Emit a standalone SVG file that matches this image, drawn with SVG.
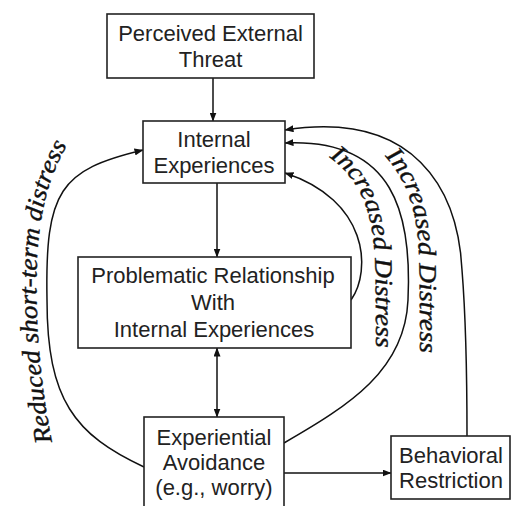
<svg xmlns="http://www.w3.org/2000/svg" width="511" height="506" viewBox="0 0 511 506">
<defs>
<marker id="ah" viewBox="0 0 9 7" refX="8.5" refY="3.5" markerWidth="9" markerHeight="7" markerUnits="userSpaceOnUse" orient="auto-start-reverse">
<path d="M0,0 L9,3.5 L0,7 z" fill="#111"/>
</marker>
<path id="tpL" d="M52,442 C40,382 35,322 37,262 C39,212 50,170 72,138"/>
<path id="tpI" d="M329,157 C361,180 373,213 375,262 C376,300 376,330 376,370"/>
<path id="tpO" d="M385,156 C407,180 418,213 419,258 C420,300 420,330 420,370"/>
</defs>
<style>
.box{fill:#fff;stroke:#222;stroke-width:1.6}
.lbl{font-family:"Liberation Sans",Arial,sans-serif;font-size:22px;fill:#222;text-anchor:middle}
.con{fill:none;stroke:#111;stroke-width:1.5}
.cur{font-family:"Liberation Serif","Times New Roman",serif;font-style:italic;font-size:25px;fill:#111;stroke:#111;stroke-width:0.4}
</style>
<rect width="511" height="506" fill="#fff"/>
<g id="connectors">
<path class="con" d="M213,78 L213,121" marker-end="url(#ah)"/>
<path class="con" d="M217,183 L217,257" marker-end="url(#ah)"/>
<path class="con" d="M217,348 L217,417" marker-start="url(#ah)" marker-end="url(#ah)"/>
<path class="con" d="M284,473 L391,473" marker-end="url(#ah)"/>
<path class="con" d="M144,467 C75,435 47,400 47,300 C45,190 60,170 143,150" marker-end="url(#ah)"/>
<path class="con" d="M351,300 C372,270 368,200 285,173" marker-end="url(#ah)"/>
<path class="con" d="M284,443 C350,405 405,370 408,300 C412,215 395,138 285,143" marker-end="url(#ah)"/>
<path class="con" d="M467,436 C467,380 466,320 462,270 C458,190 415,110 285,130" marker-end="url(#ah)"/>
<text class="cur"><textPath href="#tpL" textLength="303" lengthAdjust="spacingAndGlyphs">Reduced short-term distress</textPath></text>
<text class="cur"><textPath href="#tpI" textLength="205" lengthAdjust="spacingAndGlyphs">Increased Distress</textPath></text>
<text class="cur"><textPath href="#tpO" textLength="205" lengthAdjust="spacingAndGlyphs">Increased Distress</textPath></text>
</g>
<g id="threat">
<rect class="box" x="107" y="14" width="207" height="64"/>
<text class="lbl" x="210.5" y="41">Perceived External</text>
<text class="lbl" x="210.5" y="67">Threat</text>
</g>
<g id="internal">
<rect class="box" x="143" y="121" width="142" height="62"/>
<text class="lbl" x="214" y="147">Internal</text>
<text class="lbl" x="214" y="173">Experiences</text>
</g>
<g id="problematic">
<rect class="box" x="78" y="257" width="273" height="91"/>
<text class="lbl" x="213" y="283">Problematic Relationship</text>
<text class="lbl" x="213" y="310">With</text>
<text class="lbl" x="214" y="337">Internal Experiences</text>
</g>
<g id="avoidance">
<rect class="box" x="144" y="417" width="140" height="100"/>
<text class="lbl" x="214" y="445">Experiential</text>
<text class="lbl" x="214" y="470">Avoidance</text>
<text class="lbl" x="214" y="495">(e.g., worry)</text>
</g>
<g id="restriction">
<rect class="box" x="391" y="436" width="119" height="63"/>
<text class="lbl" x="451" y="463">Behavioral</text>
<text class="lbl" x="451" y="488">Restriction</text>
</g>
</svg>
